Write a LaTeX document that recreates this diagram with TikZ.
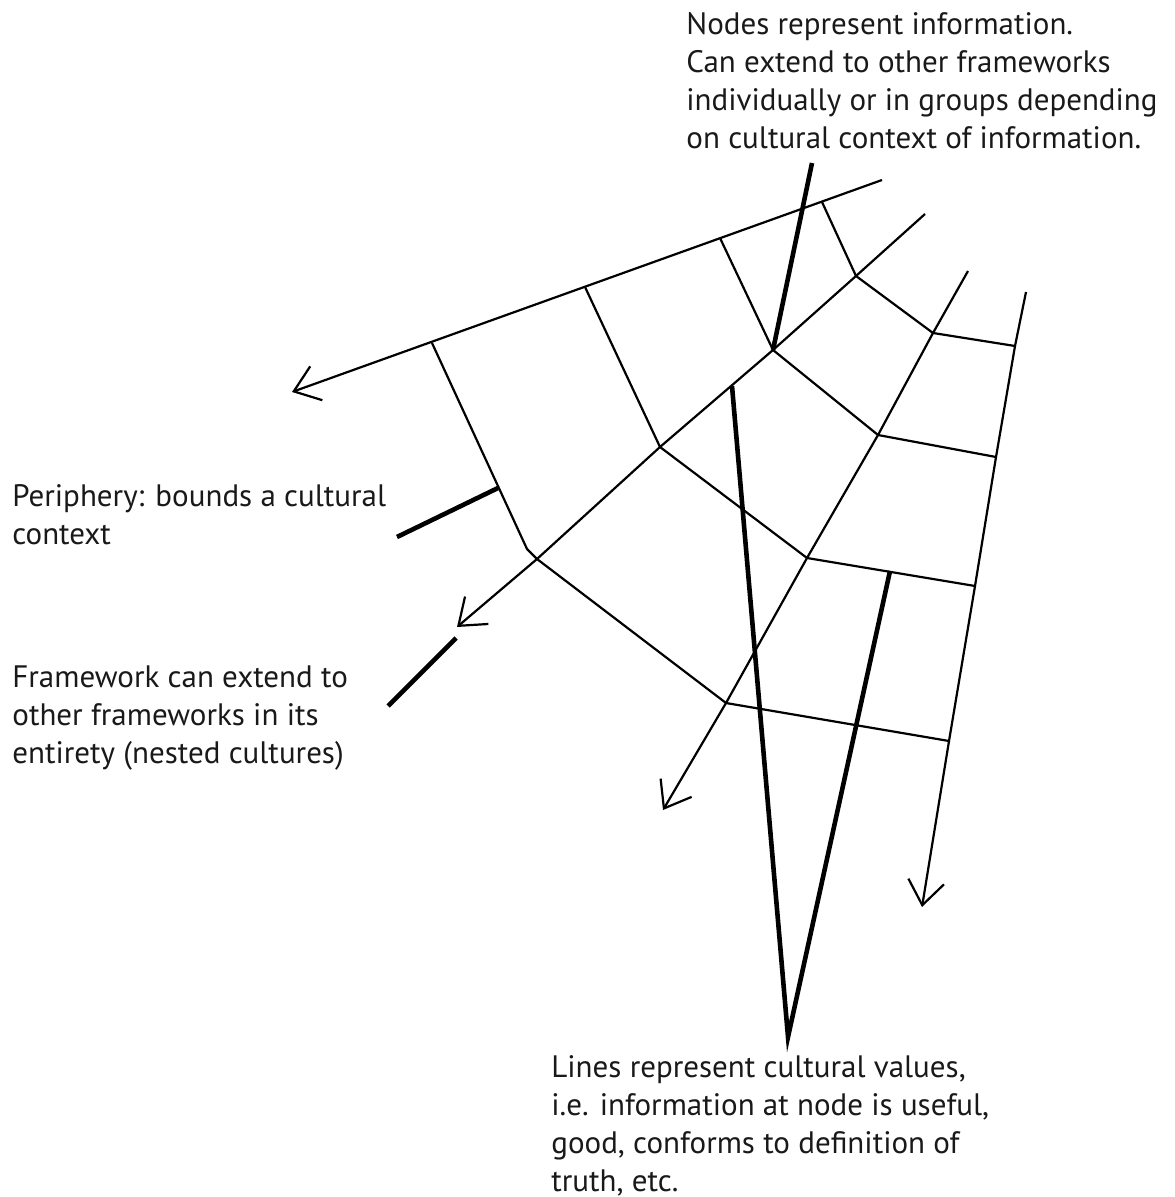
\documentclass[tikz,border=0pt]{standalone}
\usepackage{fontspec}
\setmainfont{PT Sans}
\usetikzlibrary{arrows.meta}

\begin{document}
\begin{tikzpicture}[x=0.5pt,y=-0.5pt,
  web/.style={line width=1.1pt,black,line join=round},
  outward/.style={web,-{Straight Barb[length=12pt,width=18pt]}},
  ptr/.style={line width=2.3pt,black},
  note/.style={anchor=north west,inner sep=0pt,align=left,
    font=\fontsize{15.5}{19}\selectfont,text=black!90}]
\useasboundingbox (0,0) rectangle (1174,1197);
% ===== points of the web =====
% top periphery
\coordinate (t0) at (882,180);  \coordinate (t1) at (292,392);
\coordinate (a1) at (432,343);  \coordinate (a2) at (585,287);
\coordinate (a3) at (720,238);  \coordinate (a4) at (822,202);
\coordinate (c1) at (527,549);
% inner ring
\coordinate (n1) at (856,276);  \coordinate (n2) at (773,350);
\coordinate (n3) at (660,447);  \coordinate (n4) at (537,559);
% middle ring
\coordinate (m1) at (933,333);  \coordinate (m2) at (878,435);
\coordinate (m3) at (807,558);  \coordinate (m4) at (726,703);
% outer ring (right periphery)
\coordinate (r1) at (1015,346); \coordinate (r2) at (996,457);
\coordinate (r3) at (975,586);  \coordinate (r4) at (949,741);
% radial ends
\coordinate (s1) at (925,214);  \coordinate (e1) at (457,627);
\coordinate (s2) at (968,271);  \coordinate (e2) at (663,810);
\coordinate (s3) at (1026,292); \coordinate (e3) at (922,907);
% ===== web lines =====
\draw[outward] (t0)--(t1);
\draw[outward] (s1)--(n1)--(n2)--(n3)--(n4)--(e1);
\draw[outward] (s2)--(m1)--(m2)--(m3)--(m4)--(e2);
\draw[outward] (s3)--(r1)--(r2)--(r3)--(r4)--(e3);
\draw[web] (a1)--(c1)--(n4)--(m4)--(r4);
\draw[web] (a2)--(n3)--(m3)--(r3);
\draw[web] (a3)--(n2)--(m2)--(r2);
\draw[web] (a4)--(n1)--(m1)--(r1);
% ===== notes and pointers =====
\node[note] (nodes) at (686,12)
  {Nodes represent information.\\Can extend to other frameworks\\individually or in groups depending\\on cultural context of information.};
\coordinate (p1) at (812,163);
\draw[ptr] (p1)--(n2);
\node[note] (periph) at (12,484) {Periphery: bounds a cultural\\context};
\coordinate (p2a) at (397,537); \coordinate (p2b) at (498,488);
\draw[ptr] (p2a)--(p2b);
\node[note] (frame) at (12,665)
  {Framework can extend to\\other frameworks in its\\entirety (nested cultures)};
\coordinate (p3a) at (388,706); \coordinate (p3b) at (456,638);
\draw[ptr] (p3a)--(p3b);
\node[note] (lines) at (551,1055)
  {Lines represent cultural values,\\i.e. information at node is useful,\\good, conforms to definition of\\truth, etc.};
\coordinate (v0) at (788,1037);
\coordinate (v1) at (732,386); \coordinate (v2) at (890,571);
\draw[ptr,line join=miter] (v1)--(v0)--(v2);
\end{tikzpicture}
\end{document}
